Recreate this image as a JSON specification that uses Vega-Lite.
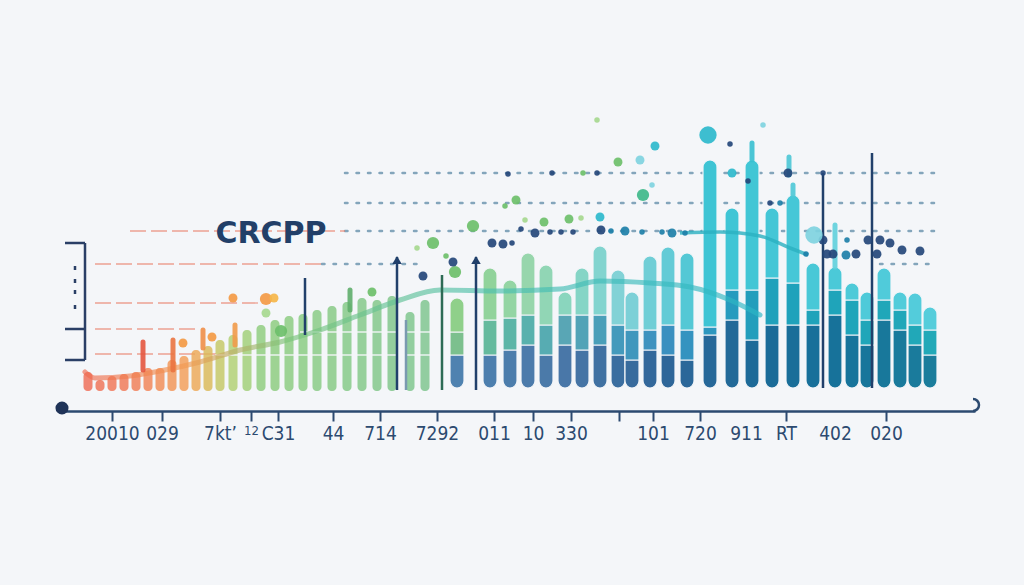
{
  "$schema": "https://vega.github.io/schema/vega-lite/v6.json",
  "width": 913,
  "height": 311,
  "autosize": "none",
  "padding": {"left": 62, "top": 100, "right": 49, "bottom": 174},
  "background": "#f4f6f9",
  "config": {"view": {"stroke": null}, "axis": {"grid": false}, "scale": {"continuousPadding": 0}},
  "datasets": {
    "guides": [
      {"x": 283, "x2": 873, "y": 238, "kind": "blue"},
      {"x": 283, "x2": 873, "y": 208, "kind": "blue"},
      {"x": 283, "x2": 873, "y": 180, "kind": "blue"},
      {"x": 818, "x2": 868, "y": 147, "kind": "blue"},
      {"x": 260, "x2": 358, "y": 147, "kind": "blue"},
      {"x": 68, "x2": 283, "y": 180, "kind": "red"},
      {"x": 33, "x2": 260, "y": 147, "kind": "red"},
      {"x": 33, "x2": 198, "y": 108, "kind": "red"},
      {"x": 33, "x2": 133, "y": 82, "kind": "red"},
      {"x": 33, "x2": 158, "y": 57, "kind": "red"}
    ],
    "bracket": [
      {"x": 23, "x2": 23, "y": 168, "y2": 51},
      {"x": 3, "x2": 23, "y": 168, "y2": 168},
      {"x": 3, "x2": 23, "y": 82, "y2": 82},
      {"x": 3, "x2": 23, "y": 51, "y2": 51},
      {"x": 13, "x2": 13, "y": 145, "y2": 141},
      {"x": 13, "x2": 13, "y": 132, "y2": 128},
      {"x": 13, "x2": 13, "y": 121, "y2": 117},
      {"x": 13, "x2": 13, "y": 106, "y2": 102}
    ],
    "leftbars": [
      {"x": 26, "top": 39, "base": 20}, {"x": 38, "top": 31, "base": 20}, {"x": 50, "top": 35, "base": 20},
      {"x": 62, "top": 37, "base": 20}, {"x": 74, "top": 39, "base": 20}, {"x": 86, "top": 43, "base": 20},
      {"x": 98, "top": 43, "base": 20}, {"x": 110, "top": 51, "base": 20}, {"x": 122, "top": 55, "base": 20},
      {"x": 134, "top": 61, "base": 20}, {"x": 146, "top": 65, "base": 20}, {"x": 158, "top": 71, "base": 20},
      {"x": 171, "top": 76, "base": 20}, {"x": 185, "top": 81, "base": 20}, {"x": 199, "top": 86, "base": 20},
      {"x": 213, "top": 91, "base": 20}, {"x": 227, "top": 95, "base": 20}, {"x": 241, "top": 97, "base": 20},
      {"x": 255, "top": 101, "base": 20}, {"x": 270, "top": 105, "base": 20}, {"x": 285, "top": 109, "base": 20},
      {"x": 300, "top": 113, "base": 20}, {"x": 315, "top": 111, "base": 20}, {"x": 330, "top": 115, "base": 20},
      {"x": 348, "top": 99, "base": 20}, {"x": 363, "top": 111, "base": 20}
    ],
    "widebars": [
      {"x": 395, "top": 113, "mid": 79, "low": 56, "base": 23},
      {"x": 428, "top": 143, "mid": 91, "low": 56, "base": 23},
      {"x": 448, "top": 131, "mid": 93, "low": 61, "base": 23},
      {"x": 466, "top": 158, "mid": 96, "low": 66, "base": 23},
      {"x": 484, "top": 146, "mid": 86, "low": 56, "base": 23},
      {"x": 503, "top": 119, "mid": 96, "low": 66, "base": 23},
      {"x": 520, "top": 143, "mid": 96, "low": 61, "base": 23},
      {"x": 538, "top": 165, "mid": 96, "low": 66, "base": 23},
      {"x": 556, "top": 141, "mid": 86, "low": 56, "base": 23},
      {"x": 570, "top": 119, "mid": 81, "low": 51, "base": 23},
      {"x": 588, "top": 155, "mid": 81, "low": 61, "base": 23},
      {"x": 606, "top": 164, "mid": 86, "low": 56, "base": 23},
      {"x": 625, "top": 158, "mid": 81, "low": 51, "base": 23},
      {"x": 648, "top": 251, "mid": 84, "low": 76, "base": 23},
      {"x": 670, "top": 203, "mid": 121, "low": 91, "base": 23},
      {"x": 690, "top": 251, "mid": 121, "low": 71, "base": 23},
      {"x": 710, "top": 203, "mid": 133, "low": 86, "base": 23},
      {"x": 731, "top": 216, "mid": 128, "low": 86, "base": 23},
      {"x": 751, "top": 148, "mid": 101, "low": 86, "base": 23},
      {"x": 773, "top": 144, "mid": 121, "low": 96, "base": 23},
      {"x": 790, "top": 128, "mid": 111, "low": 76, "base": 23},
      {"x": 805, "top": 119, "mid": 91, "low": 66, "base": 23},
      {"x": 822, "top": 143, "mid": 111, "low": 91, "base": 23},
      {"x": 838, "top": 119, "mid": 101, "low": 81, "base": 23},
      {"x": 853, "top": 118, "mid": 86, "low": 66, "base": 23},
      {"x": 868, "top": 104, "mid": 81, "low": 56, "base": 23}
    ],
    "seps": [
      {"x": 153, "x2": 380, "y": 56},
      {"x": 238, "x2": 380, "y": 79}
    ],
    "wave": [
      {"x": 23, "y": 39}, {"x": 33, "y": 33}, {"x": 68, "y": 35}, {"x": 103, "y": 41},
      {"x": 138, "y": 49}, {"x": 178, "y": 61}, {"x": 218, "y": 69}, {"x": 258, "y": 81},
      {"x": 298, "y": 96}, {"x": 338, "y": 111}, {"x": 378, "y": 121}, {"x": 438, "y": 120},
      {"x": 498, "y": 122}, {"x": 538, "y": 130}, {"x": 588, "y": 128}, {"x": 628, "y": 124},
      {"x": 668, "y": 111}, {"x": 698, "y": 96}
    ],
    "wave2": [
      {"x": 618, "y": 178}, {"x": 658, "y": 179}, {"x": 698, "y": 175}, {"x": 728, "y": 163}, {"x": 746, "y": 156}
    ],
    "sticks": [
      {"x": 243, "y": 133, "y2": 76, "kind": "navy"},
      {"x": 335, "y": 154, "y2": 21, "kind": "navy"},
      {"x": 344, "y": 91, "y2": 21, "kind": "gray"},
      {"x": 380, "y": 136, "y2": 21, "kind": "green"},
      {"x": 414, "y": 154, "y2": 21, "kind": "navy"},
      {"x": 761, "y": 238, "y2": 23, "kind": "navy"},
      {"x": 810, "y": 258, "y2": 23, "kind": "navy"}
    ],
    "spikes": [
      {"x": 81, "y": 69, "y2": 41},
      {"x": 111, "y": 71, "y2": 41},
      {"x": 141, "y": 81, "y2": 63},
      {"x": 173, "y": 86, "y2": 66},
      {"x": 288, "y": 121, "y2": 101},
      {"x": 690, "y": 268, "y2": 251},
      {"x": 731, "y": 226, "y2": 216},
      {"x": 773, "y": 186, "y2": 144},
      {"x": 727, "y": 254, "y2": 236}
    ],
    "arrows": [{"x": 335, "y": 151}, {"x": 414, "y": 151}],
    "dots": [
      {"x": 171, "y": 113, "m": 2, "c": "orange"}, {"x": 204, "y": 112, "m": 3, "c": "orange"},
      {"x": 121, "y": 68, "m": 2, "c": "orange"}, {"x": 150, "y": 74, "m": 2, "c": "orange"},
      {"x": 212, "y": 113, "m": 2, "c": "amber"},
      {"x": 204, "y": 98, "m": 2, "c": "lightgreen"}, {"x": 355, "y": 163, "m": 1, "c": "lightgreen"},
      {"x": 463, "y": 191, "m": 1, "c": "lightgreen"}, {"x": 519, "y": 193, "m": 1, "c": "lightgreen"},
      {"x": 535, "y": 291, "m": 1, "c": "lightgreen"},
      {"x": 219, "y": 80, "m": 3, "c": "green"}, {"x": 310, "y": 119, "m": 2, "c": "green"},
      {"x": 371, "y": 168, "m": 3, "c": "green"}, {"x": 384, "y": 155, "m": 1, "c": "green"},
      {"x": 393, "y": 139, "m": 3, "c": "green"}, {"x": 411, "y": 185, "m": 3, "c": "green"},
      {"x": 443, "y": 205, "m": 1, "c": "green"}, {"x": 454, "y": 211, "m": 2, "c": "green"},
      {"x": 482, "y": 189, "m": 2, "c": "green"}, {"x": 507, "y": 192, "m": 2, "c": "green"},
      {"x": 556, "y": 249, "m": 2, "c": "green"}, {"x": 521, "y": 238, "m": 1, "c": "green"},
      {"x": 581, "y": 216, "m": 3, "c": "seagreen"},
      {"x": 361, "y": 135, "m": 2, "c": "navy"}, {"x": 391, "y": 149, "m": 2, "c": "navy"},
      {"x": 430, "y": 168, "m": 2, "c": "navy"}, {"x": 441, "y": 167, "m": 2, "c": "navy"},
      {"x": 450, "y": 168, "m": 1, "c": "navy"}, {"x": 459, "y": 182, "m": 1, "c": "navy"},
      {"x": 473, "y": 178, "m": 2, "c": "navy"}, {"x": 488, "y": 179, "m": 1, "c": "navy"},
      {"x": 499, "y": 179, "m": 1, "c": "navy"}, {"x": 511, "y": 179, "m": 1, "c": "navy"},
      {"x": 446, "y": 237, "m": 1, "c": "navy"}, {"x": 490, "y": 238, "m": 1, "c": "navy"},
      {"x": 535, "y": 238, "m": 1, "c": "navy"}, {"x": 539, "y": 181, "m": 2, "c": "navy"},
      {"x": 668, "y": 267, "m": 1, "c": "navy"}, {"x": 686, "y": 230, "m": 1, "c": "navy"},
      {"x": 726, "y": 238, "m": 2, "c": "navy"}, {"x": 761, "y": 238, "m": 1, "c": "navy"},
      {"x": 708, "y": 208, "m": 1, "c": "navy"}, {"x": 761, "y": 171, "m": 2, "c": "navy"},
      {"x": 771, "y": 157, "m": 2, "c": "navy"}, {"x": 794, "y": 157, "m": 2, "c": "navy"},
      {"x": 806, "y": 171, "m": 2, "c": "navy"}, {"x": 818, "y": 171, "m": 2, "c": "navy"},
      {"x": 815, "y": 157, "m": 2, "c": "navy"}, {"x": 828, "y": 168, "m": 2, "c": "navy"},
      {"x": 840, "y": 161, "m": 2, "c": "navy"}, {"x": 858, "y": 160, "m": 2, "c": "navy"},
      {"x": 765, "y": 157, "m": 2, "c": "navy"},
      {"x": 549, "y": 180, "m": 1, "c": "teal"}, {"x": 563, "y": 180, "m": 2, "c": "teal"},
      {"x": 580, "y": 179, "m": 1, "c": "teal"}, {"x": 600, "y": 179, "m": 1, "c": "teal"},
      {"x": 610, "y": 178, "m": 2, "c": "teal"}, {"x": 623, "y": 178, "m": 1, "c": "teal"},
      {"x": 718, "y": 208, "m": 1, "c": "teal"}, {"x": 785, "y": 171, "m": 1, "c": "teal"},
      {"x": 784, "y": 156, "m": 2, "c": "teal"}, {"x": 744, "y": 157, "m": 1, "c": "teal"},
      {"x": 538, "y": 194, "m": 2, "c": "cyan"}, {"x": 593, "y": 265, "m": 2, "c": "cyan"},
      {"x": 646, "y": 276, "m": 4, "c": "cyan"}, {"x": 670, "y": 238, "m": 2, "c": "cyan"},
      {"x": 578, "y": 251, "m": 2, "c": "lightcyan"}, {"x": 590, "y": 226, "m": 1, "c": "lightcyan"},
      {"x": 701, "y": 286, "m": 1, "c": "lightcyan"}, {"x": 752, "y": 176, "m": 4, "c": "lightcyan"}
    ],
    "title": [{"x": 209, "y": 168, "label": "CRCPP"}],
    "origin": [{"x": 0, "y": 3}],
    "curl": [{"x": 917, "y": 6}]
  },
  "layer": [
    {
      "data": {"name": "guides"},
      "transform": [{"filter": "datum.kind == 'blue'"}],
      "mark": {"type": "rule", "color": "#5e8aa6", "strokeWidth": 2.5, "strokeDash": [2.5, 9], "strokeCap": "round", "opacity": 0.75},
      "encoding": {
        "x": {"field": "x", "type": "quantitative", "title": null,
          "scale": {"domain": [0, 913], "nice": false, "zero": false, "padding": 0},
          "axis": {
            "values": [50, 100, 158, 189, 216, 271, 318, 375, 432, 471, 509, 557, 591, 638, 684, 724, 773, 824],
            "labelExpr": "datum.value==50?'20010':datum.value==100?'029':datum.value==158?'7kt’':datum.value==189?'12':datum.value==216?'C31':datum.value==271?'44':datum.value==318?'714':datum.value==375?'7292':datum.value==432?'011':datum.value==471?'10':datum.value==509?'330':datum.value==591?'101':datum.value==638?'720':datum.value==684?'911':datum.value==724?'RT':datum.value==773?'402':datum.value==824?'020':''",
            "domainColor": "#2c4a70", "domainWidth": 2.5,
            "tickColor": "#2c4a70", "tickWidth": 2, "tickSize": 10,
            "tickOpacity": {"condition": {"test": "datum.value==684 || datum.value==773", "value": 0}, "value": 1},
            "labelFont": "Liberation Sans Narrow, DejaVu Sans Condensed, sans-serif",
            "labelFontSize": {"condition": {"test": "datum.value==189", "value": 13}, "value": 19},
            "labelColor": "#2c4a70", "labelPadding": 3,
            "labelOverlap": false, "labelFlush": false, "labelBound": false, "grid": false
          }},
        "x2": {"field": "x2"},
        "y": {"field": "y", "type": "quantitative", "axis": null,
          "scale": {"domain": [0, 311], "nice": false, "zero": false, "padding": 0}}
      }
    },
    {
      "data": {"name": "guides"},
      "transform": [{"filter": "datum.kind == 'red'"}],
      "mark": {"type": "rule", "color": "#ea8470", "strokeWidth": 1.3, "strokeDash": [16, 5], "opacity": 0.75},
      "encoding": {
        "x": {"field": "x", "type": "quantitative", "title": null},
        "x2": {"field": "x2"},
        "y": {"field": "y", "type": "quantitative", "axis": null}
      }
    },
    {
      "data": {"name": "bracket"},
      "mark": {"type": "rule", "color": "#2a3f66", "strokeWidth": 2.5},
      "encoding": {
        "x": {"field": "x", "type": "quantitative", "title": null},
        "x2": {"field": "x2"},
        "y": {"field": "y", "type": "quantitative", "axis": null},
        "y2": {"field": "y2"}
      }
    },
    {
      "data": {"name": "leftbars"},
      "mark": {"type": "bar", "size": 9, "cornerRadius": 4, "opacity": 0.82},
      "encoding": {
        "x": {"field": "x", "type": "quantitative", "title": null},
        "y": {"field": "base", "type": "quantitative", "axis": null},
        "y2": {"field": "top"},
        "color": {"field": "x", "type": "quantitative", "legend": null,
          "scale": {"domain": [26, 80, 130, 165, 200, 363], "range": ["#ef6b55", "#f07f55", "#f3a158", "#b9cf70", "#8dcc7c", "#7cc38c"]}}
      }
    },
    {
      "data": {"name": "widebars"},
      "mark": {"type": "bar", "size": 14, "cornerRadiusBottomLeft": 7, "cornerRadiusBottomRight": 7, "stroke": "#f4f6f9", "strokeWidth": 1.2},
      "encoding": {
        "x": {"field": "x", "type": "quantitative", "title": null},
        "y": {"field": "base", "type": "quantitative", "axis": null},
        "y2": {"field": "low"},
        "color": {"field": "x", "type": "quantitative", "legend": null,
          "scale": {"domain": [395, 500, 600, 700, 868], "range": ["#4f82b0", "#4a78a8", "#2f6699", "#1b6a98", "#1b7d9c"]}}
      }
    },
    {
      "data": {"name": "widebars"},
      "mark": {"type": "bar", "size": 14, "stroke": "#f4f6f9", "strokeWidth": 1.2},
      "encoding": {
        "x": {"field": "x", "type": "quantitative", "title": null},
        "y": {"field": "low", "type": "quantitative", "axis": null},
        "y2": {"field": "mid"},
        "color": {"field": "x", "type": "quantitative", "legend": null,
          "scale": {"domain": [395, 500, 600, 700, 868], "range": ["#7cc08e", "#5aa7b5", "#3d8fc0", "#20a0bb", "#22a9b8"]}}
      }
    },
    {
      "data": {"name": "widebars"},
      "mark": {"type": "bar", "size": 14, "cornerRadiusTopLeft": 7, "cornerRadiusTopRight": 7, "stroke": "#f4f6f9", "strokeWidth": 1.2},
      "encoding": {
        "x": {"field": "x", "type": "quantitative", "title": null},
        "y": {"field": "mid", "type": "quantitative", "axis": null},
        "y2": {"field": "top"},
        "color": {"field": "x", "type": "quantitative", "legend": null,
          "scale": {"domain": [395, 470, 560, 650, 868], "range": ["#8fd08a", "#98d6ae", "#82d2d8", "#3cc4d4", "#55cddb"]}}
      }
    },
    {
      "data": {"name": "seps"},
      "mark": {"type": "rule", "color": "#f4f6f9", "strokeWidth": 1.5, "opacity": 0.9},
      "encoding": {
        "x": {"field": "x", "type": "quantitative", "title": null},
        "x2": {"field": "x2"},
        "y": {"field": "y", "type": "quantitative", "axis": null}
      }
    },
    {
      "data": {"name": "wave"},
      "mark": {"type": "line", "interpolate": "monotone", "strokeWidth": 5, "opacity": 0.65, "strokeCap": "round",
        "stroke": {"gradient": "linear", "x1": 0, "x2": 1, "y1": 0, "y2": 0,
          "stops": [{"offset": 0, "color": "#ee6a50"}, {"offset": 0.15, "color": "#f29a52"}, {"offset": 0.3, "color": "#7cc47a"}, {"offset": 0.6, "color": "#4bbfae"}, {"offset": 1, "color": "#2bb6c6"}]}},
      "encoding": {
        "x": {"field": "x", "type": "quantitative", "title": null},
        "y": {"field": "y", "type": "quantitative", "axis": null}
      }
    },
    {
      "data": {"name": "wave2"},
      "mark": {"type": "line", "interpolate": "monotone", "strokeWidth": 3.5, "color": "#2ab0c0", "opacity": 0.8},
      "encoding": {
        "x": {"field": "x", "type": "quantitative", "title": null},
        "y": {"field": "y", "type": "quantitative", "axis": null}
      }
    },
    {
      "data": {"name": "sticks"},
      "mark": {"type": "rule", "strokeWidth": 2.5},
      "encoding": {
        "x": {"field": "x", "type": "quantitative", "title": null},
        "y": {"field": "y", "type": "quantitative", "axis": null},
        "y2": {"field": "y2"},
        "color": {"field": "kind", "type": "nominal", "legend": null,
          "scale": {"domain": ["navy", "green", "gray"], "range": ["#21406b", "#2d6b55", "#7a9ab0"]}}
      }
    },
    {
      "data": {"name": "spikes"},
      "mark": {"type": "rule", "strokeWidth": 5, "strokeCap": "round", "opacity": 0.9},
      "encoding": {
        "x": {"field": "x", "type": "quantitative", "title": null},
        "y": {"field": "y", "type": "quantitative", "axis": null},
        "y2": {"field": "y2"},
        "color": {"field": "x", "type": "quantitative", "legend": null,
          "scale": {"domain": [81, 141, 200, 288, 690, 773], "range": ["#e4573f", "#ef8f48", "#f2a54c", "#5fae6c", "#38c0d0", "#5fd0dc"]}}
      }
    },
    {
      "data": {"name": "arrows"},
      "mark": {"type": "point", "shape": "triangle-up", "filled": true, "size": 90, "color": "#21406b", "opacity": 1},
      "encoding": {
        "x": {"field": "x", "type": "quantitative", "title": null},
        "y": {"field": "y", "type": "quantitative", "axis": null}
      }
    },
    {
      "data": {"name": "dots"},
      "mark": {"type": "circle", "opacity": 0.92},
      "encoding": {
        "x": {"field": "x", "type": "quantitative", "title": null},
        "y": {"field": "y", "type": "quantitative", "axis": null},
        "size": {"field": "m", "type": "quantitative", "legend": null,
          "scale": {"type": "linear", "domain": [1, 2, 3, 4], "range": [30, 80, 150, 300]}},
        "color": {"field": "c", "type": "nominal", "legend": null,
          "scale": {"domain": ["orange", "amber", "green", "lightgreen", "seagreen", "navy", "teal", "cyan", "lightcyan"],
            "range": ["#f39a45", "#f5b64a", "#6cbf6a", "#a6d88f", "#3fb88a", "#24467a", "#1d7fa8", "#2db8cc", "#7fd3e0"]}}
      }
    },
    {
      "data": {"name": "title"},
      "mark": {"type": "text", "align": "center", "baseline": "alphabetic", "font": "DejaVu Sans", "fontWeight": "bold", "fontSize": 30, "color": "#223f68"},
      "encoding": {
        "x": {"field": "x", "type": "quantitative", "title": null},
        "y": {"field": "y", "type": "quantitative", "axis": null},
        "text": {"field": "label"}
      }
    },
    {
      "data": {"name": "origin"},
      "mark": {"type": "circle", "size": 170, "color": "#1f3358", "opacity": 1},
      "encoding": {
        "x": {"field": "x", "type": "quantitative", "title": null},
        "y": {"field": "y", "type": "quantitative", "axis": null}
      }
    },
    {
      "data": {"name": "curl"},
      "mark": {"type": "point", "shape": "M -1 1 A 1 1 0 0 0 -1 -1", "size": 144, "filled": false, "stroke": "#2c4a70", "strokeWidth": 2.5, "opacity": 1},
      "encoding": {
        "x": {"field": "x", "type": "quantitative", "title": null},
        "y": {"field": "y", "type": "quantitative", "axis": null}
      }
    }
  ],
  "resolve": {"scale": {"color": "independent", "size": "independent"}}
}
